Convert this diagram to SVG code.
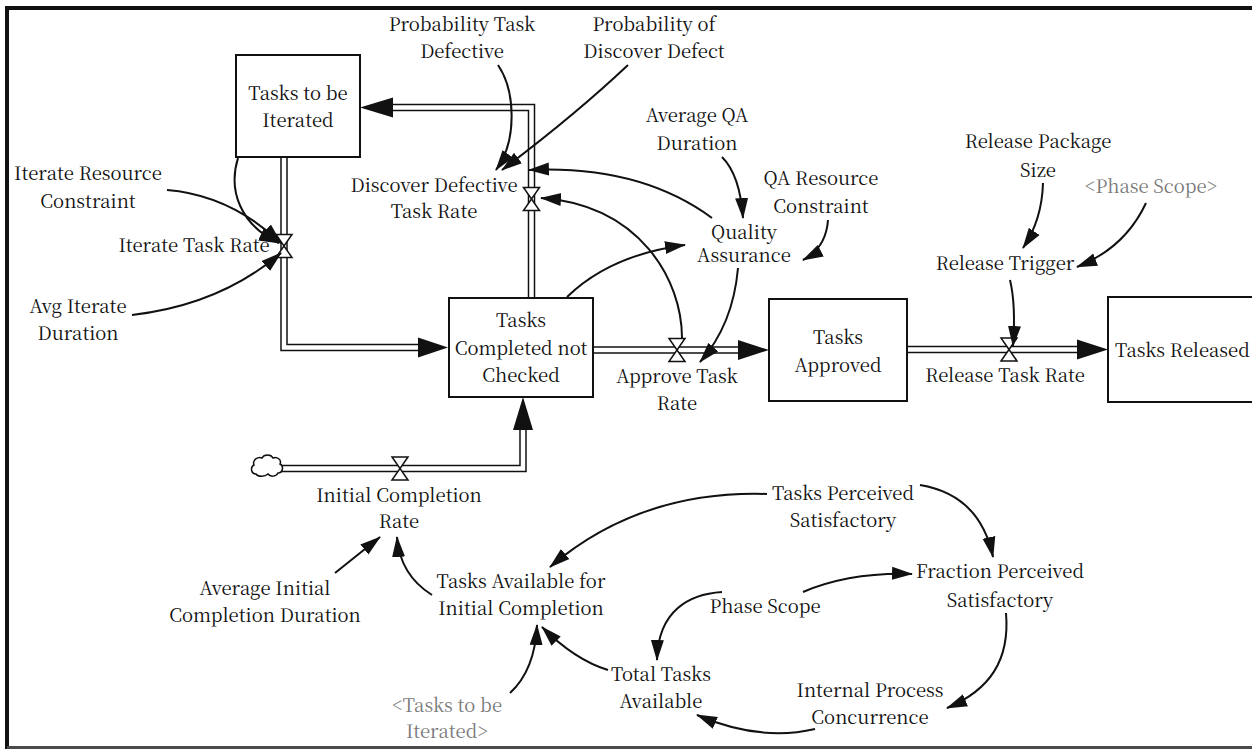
<svg xmlns="http://www.w3.org/2000/svg" width="1252" height="749" viewBox="0 0 1252 749" font-family="'Noto Serif CJK SC', 'Liberation Serif', serif">
  <defs>
    <style>
      text { font-size: 18.5px; fill: #111; text-anchor: middle; }
      text.shadow { fill: #7a7a7a; }
      text.left { text-anchor: start; }
      .stock { fill: #fff; stroke: #111; stroke-width: 2; }
      .pipe { fill: none; stroke: #111; stroke-width: 7.5; stroke-linejoin: miter; }
      .pipe-core { fill: none; stroke: #fff; stroke-width: 4.5; stroke-linejoin: miter; }
      .flow-head { fill: #111; stroke: none; }
      .valve { fill: #fff; stroke: #111; stroke-width: 1.5; stroke-linejoin: miter; }
      .cloud { fill: #fff; stroke: #111; stroke-width: 1.5; }
      .link { fill: none; stroke: #111; stroke-width: 2; marker-end: url(#head); }
      .frame { fill: none; stroke: #111; stroke-width: 4; }
    </style>
    <marker id="head" markerUnits="userSpaceOnUse" markerWidth="24" markerHeight="16" refX="20" refY="7" orient="auto">
      <path d="M0,0.5 L21,7 L0,13.5 Z" fill="#111"/>
    </marker>
    <path id="valve-shape" class="valve" d="M-8,-11.5 H8 L-8,11.5 H8 Z"/>
  </defs>

  <rect width="1252" height="749" fill="#fff"/>

  <!-- outer frame -->
  <path class="frame" d="M7,749 V8 H1252"/>
  <path d="M7,747.5 H1252" stroke="#4a4a4a" stroke-width="3" fill="none"/>

  <!-- material flows (double-line pipes) -->
  <g id="flows">
    <g id="flow-iterate">
      <path class="pipe" d="M284,150 V347.5 H419"/>
      <path class="pipe-core" d="M284,150 V347.5 H419"/>
      <path class="flow-head" d="M418,337.5 L448,347.5 L418,357.5 Z"/>
    </g>
    <g id="flow-discover">
      <path class="pipe" d="M531.5,305 V107.5 H392"/>
      <path class="pipe-core" d="M531.5,305 V107.5 H392"/>
      <path class="flow-head" d="M393,97.5 L360,107.5 L393,117.5 Z"/>
    </g>
    <g id="flow-approve">
      <path class="pipe" d="M588,350 H739"/>
      <path class="pipe-core" d="M588,350 H739"/>
      <path class="flow-head" d="M738,340 L769,350 L738,360 Z"/>
    </g>
    <g id="flow-release">
      <path class="pipe" d="M902,349.5 H1078"/>
      <path class="pipe-core" d="M902,349.5 H1078"/>
      <path class="flow-head" d="M1077,339.5 L1108,349.5 L1077,359.5 Z"/>
    </g>
    <g id="flow-initial">
      <path class="pipe" d="M279,468.5 H523 V429"/>
      <path class="pipe-core" d="M279,468.5 H523 V429"/>
      <path class="flow-head" d="M513,430 L523,397 L533,430 Z"/>
      <path class="cloud" d="M256,474 c-5,0 -6,-7 -2,-9 c-2,-5 4,-9 8,-7 c2,-4 9,-4 11,0 c4,-2 9,2 7,6 c4,2 3,9 -2,9 c-2,4 -8,4 -10,1 c-3,3 -10,3 -12,0 z"/>
    </g>
  </g>

  <!-- stocks -->
  <g id="tasks-to-be-iterated">
    <rect class="stock" x="236" y="55" width="124" height="102"/>
    <text><tspan x="298" y="100">Tasks to be</tspan><tspan x="298" y="127">Iterated</tspan></text>
  </g>
  <g id="tasks-completed-not-checked">
    <rect class="stock" x="449" y="298" width="144" height="99"/>
    <text><tspan x="521" y="327">Tasks</tspan><tspan x="521" y="355">Completed not</tspan><tspan x="521" y="382">Checked</tspan></text>
  </g>
  <g id="tasks-approved">
    <rect class="stock" x="769" y="299" width="138" height="102"/>
    <text><tspan x="838" y="344">Tasks</tspan><tspan x="838" y="372">Approved</tspan></text>
  </g>
  <g id="tasks-released">
    <rect class="stock" x="1108" y="297" width="160" height="105"/>
    <text class="left" x="1115" y="357">Tasks Released</text>
  </g>

  <!-- rates -->
  <g id="iterate-task-rate">
    <use href="#valve-shape" x="284" y="246"/>
    <text x="194" y="252">Iterate Task Rate</text>
  </g>
  <g id="discover-defective-task-rate">
    <use href="#valve-shape" x="531.5" y="199"/>
    <text><tspan x="434" y="192">Discover Defective</tspan><tspan x="434" y="218">Task Rate</tspan></text>
  </g>
  <g id="approve-task-rate">
    <use href="#valve-shape" x="677" y="350"/>
    <text><tspan x="677" y="383">Approve Task</tspan><tspan x="677" y="410">Rate</tspan></text>
  </g>
  <g id="release-task-rate">
    <use href="#valve-shape" x="1009" y="349.5"/>
    <text x="1005" y="382">Release Task Rate</text>
  </g>
  <g id="initial-completion-rate">
    <use href="#valve-shape" x="400" y="468.5"/>
    <text><tspan x="399" y="502">Initial Completion</tspan><tspan x="399" y="528">Rate</tspan></text>
  </g>

  <!-- auxiliaries and constants -->
  <g id="iterate-resource-constraint">
    <text><tspan x="88" y="180">Iterate Resource</tspan><tspan x="88" y="208">Constraint</tspan></text>
  </g>
  <g id="avg-iterate-duration">
    <text><tspan x="78" y="313">Avg Iterate</tspan><tspan x="78" y="340">Duration</tspan></text>
  </g>
  <g id="probability-task-defective">
    <text><tspan x="462" y="31">Probability Task</tspan><tspan x="462" y="58">Defective</tspan></text>
  </g>
  <g id="probability-of-discover-defect">
    <text><tspan x="654" y="31">Probability of</tspan><tspan x="654" y="58">Discover Defect</tspan></text>
  </g>
  <g id="average-qa-duration">
    <text><tspan x="697" y="122">Average QA</tspan><tspan x="697" y="150">Duration</tspan></text>
  </g>
  <g id="quality-assurance">
    <text><tspan x="744" y="239">Quality</tspan><tspan x="744" y="262">Assurance</tspan></text>
  </g>
  <g id="qa-resource-constraint">
    <text><tspan x="821" y="185">QA Resource</tspan><tspan x="821" y="213">Constraint</tspan></text>
  </g>
  <g id="release-package-size">
    <text><tspan x="1038" y="148">Release Package</tspan><tspan x="1038" y="177">Size</tspan></text>
  </g>
  <g id="phase-scope-shadow">
    <text class="shadow" x="1151" y="193">&lt;Phase Scope&gt;</text>
  </g>
  <g id="release-trigger">
    <text x="1005" y="270">Release Trigger</text>
  </g>
  <g id="average-initial-completion-duration">
    <text><tspan x="265" y="595">Average Initial</tspan><tspan x="265" y="622">Completion Duration</tspan></text>
  </g>
  <g id="tasks-available-for-initial-completion">
    <text><tspan x="521" y="588">Tasks Available for</tspan><tspan x="521" y="615">Initial Completion</tspan></text>
  </g>
  <g id="tasks-to-be-iterated-shadow">
    <text class="shadow"><tspan x="447" y="712">&lt;Tasks to be</tspan><tspan x="447" y="738">Iterated&gt;</tspan></text>
  </g>
  <g id="tasks-perceived-satisfactory">
    <text><tspan x="843" y="500">Tasks Perceived</tspan><tspan x="843" y="527">Satisfactory</tspan></text>
  </g>
  <g id="fraction-perceived-satisfactory">
    <text><tspan x="1000" y="578">Fraction Perceived</tspan><tspan x="1000" y="607">Satisfactory</tspan></text>
  </g>
  <g id="phase-scope">
    <text x="765" y="613">Phase Scope</text>
  </g>
  <g id="total-tasks-available">
    <text><tspan x="661" y="681">Total Tasks</tspan><tspan x="661" y="708">Available</tspan></text>
  </g>
  <g id="internal-process-concurrence">
    <text><tspan x="870" y="697">Internal Process</tspan><tspan x="870" y="724">Concurrence</tspan></text>
  </g>

  <!-- information links -->
  <g id="connectors">
    <path class="link" d="M238,158 C228,190 240,225 279,243"/>
    <path class="link" d="M167,190 Q230,195 281,243"/>
    <path class="link" d="M132,315 Q220,305 281,253"/>
    <path class="link" d="M498,65 C515,90 518,140 496,170"/>
    <path class="link" d="M628,65 Q575,115 502,170"/>
    <path class="link" d="M712,218 Q640,165 529,170"/>
    <path class="link" d="M682,338 C682,280 640,205 541,198"/>
    <path class="link" d="M567,297 Q610,255 685,245"/>
    <path class="link" d="M722,157 Q740,175 743,218"/>
    <path class="link" d="M828,220 Q826,248 803,260"/>
    <path class="link" d="M738,268 Q733,325 700,362"/>
    <path class="link" d="M1043,183 Q1042,220 1023,248"/>
    <path class="link" d="M1146,203 Q1125,248 1077,267"/>
    <path class="link" d="M1010,280 Q1016,305 1013,346"/>
    <path class="link" d="M335,573 L380,537"/>
    <path class="link" d="M432,595 Q400,575 397,537"/>
    <path class="link" d="M767,494 Q640,490 550,567"/>
    <path class="link" d="M510,693 Q535,670 537,625"/>
    <path class="link" d="M608,670 Q575,660 542,627"/>
    <path class="link" d="M920,485 Q980,495 993,557"/>
    <path class="link" d="M803,592 Q850,572 912,574"/>
    <path class="link" d="M722,592 C690,594 658,610 657,660"/>
    <path class="link" d="M1006,613 C1010,660 990,690 947,708"/>
    <path class="link" d="M815,729 Q760,742 697,715"/>
  </g>
</svg>
